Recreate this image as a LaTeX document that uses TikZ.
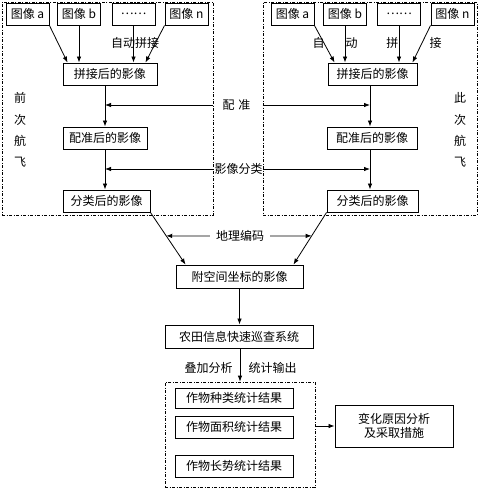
\documentclass[tikz,border=0pt]{standalone}
\usepackage{fontspec}
\setmainfont{Noto Sans CJK SC}
\usetikzlibrary{arrows.meta,positioning,calc}

\begin{document}
\begin{tikzpicture}[
  x=1pt, y=-1pt,
  font=\fontsize{12pt}{14.5pt}\selectfont,
  >={Latex[length=6pt,width=4.5pt]},
  img/.style={draw, line width=0.9pt, minimum width=43pt, minimum height=22pt, inner sep=1pt},
  stage/.style={draw, line width=0.9pt, minimum height=22pt, inner sep=1pt},
  frame/.style={draw, line width=0.7pt, dash pattern=on 3pt off 1.5pt on 1pt off 1.5pt, inner sep=0pt},
  flow/.style={->, line width=0.8pt},
  tag/.style={inner sep=1pt},
  side/.style={align=center, font=\fontsize{12pt}{21.3pt}\selectfont}
]
\useasboundingbox (0,0) rectangle (479,488);

% two flights
\node[frame, minimum width=211pt, minimum height=213pt] (frmL) at (107.5,108.5) {};
\node[frame, minimum width=214pt, minimum height=213pt] (frmR) at (370,108.5) {};
\coordinate (colL) at (105,0);
\coordinate (colR) at (370,0);

% previous flight
\node[img] (imgLa) at (27.5,14) {图像 a};
\node[img] (imgLb) at (79,14) {图像 b};
\node[img] (imgLd) at (133.5,14) {……};
\node[img] (imgLn) at (186.5,14) {图像 n};
\node[stage, minimum width=94pt] (mosL) at (110,74) {拼接后的影像};
\node[stage, minimum width=84pt] (regL) at (105,138) {配准后的影像};
\node[stage, minimum width=87pt] (clsL) at (106.5,201) {分类后的影像};
\node[tag] (lblMosL) at (135,43) {自动拼接};
\node[side] (sideL) at (20,130) {前\\次\\航\\飞};

\draw[flow] (imgLa.south east) -- ([xshift=5pt]mosL.north west);
\draw[flow] (imgLb.south) -- (imgLb.south |- mosL.north);
\draw[flow] (imgLd.south) -- (imgLd.south |- mosL.north);
\draw[flow] (imgLn.south west) -- ([xshift=-12pt]mosL.north east);
\draw[flow] (mosL.south -| colL) -- (regL.north -| colL);
\draw[flow] (regL.south -| colL) -- (clsL.north -| colL);

% this flight
\node[img] (imgRa) at (292.5,14) {图像 a};
\node[img] (imgRb) at (345,14) {图像 b};
\node[img] (imgRd) at (399,14) {……};
\node[img] (imgRn) at (452.5,14) {图像 n};
\node[stage, minimum width=89pt] (mosR) at (372.5,74) {拼接后的影像};
\node[stage, minimum width=90pt] (regR) at (372,138) {配准后的影像};
\node[stage, minimum width=91pt] (clsR) at (372.5,201) {分类后的影像};
\node[tag] (lblMosR) at (377,43) {自\hspace{21pt}动\hspace{29pt}拼\hspace{31pt}接};
\node[side] (sideR) at (460,130) {此\\次\\航\\飞};

\draw[flow] (imgRa.south east) -- ([xshift=7pt]mosR.north west);
\draw[flow] (imgRb.south) -- (imgRb.south |- mosR.north);
\draw[flow] (imgRd.south) -- (imgRd.south |- mosR.north);
\draw[flow] (imgRn.south west) -- ([xshift=-5pt]mosR.north east);
\draw[flow] (mosR.south -| colR) -- (regR.north -| colR);
\draw[flow] (regR.south -| colR) -- (clsR.north -| colR);

% registration and classification between flights
\node[tag] (lblReg) at (236.5,105) {配\hspace{4pt}准};
\draw[flow] (frmL.east |- lblReg) -- (colL |- lblReg);
\draw[flow] (frmR.west |- lblReg) -- (colR |- lblReg);
\node[tag] (lblCls) at (238.5,169) {影像分类};
\draw[flow] (frmL.east |- lblCls) -- (colL |- lblCls);
\draw[flow] (frmR.west |- lblCls) -- (colR |- lblCls);

% geocoding
\node[stage, minimum width=127pt, minimum height=23pt] (geo) at (239.5,276.5) {附空间坐标的影像};
\draw[flow] (clsL.south east) -- coordinate[pos=0.45] (gL) ([xshift=10pt]geo.north west);
\draw[flow] (clsR.south west) -- coordinate[pos=0.45] (gR) ([xshift=-10pt]geo.north east);
\node[tag] (lblGeo) at (240,236) {地理编码};
\draw[flow] ([xshift=-5pt]lblGeo.west) -- (gL);
\draw[flow] ([xshift=5pt]lblGeo.east) -- (gR);

% inspection system and results
\node[stage, minimum width=148pt, minimum height=23pt] (sys) at (239,336.5) {农田信息快速巡查系统};
\draw[flow] (geo.south) -- (geo.south |- sys.north);

\node[frame, minimum width=150pt, minimum height=105pt] (frmRes) at (240,434.5) {};
\draw[flow] (sys.south -| frmRes.north) -- (frmRes.north);
\node[tag] (lblOver) at (208.5,368) {叠加分析};
\node[tag] (lblStat) at (272.5,368) {统计输出};

\node[stage, minimum width=118pt, minimum height=20pt] (resKind) at (234,398) {作物种类统计结果};
\node[stage, minimum width=118pt] (resArea) at (234,427) {作物面积统计结果};
\node[stage, minimum width=118pt] (resGrow) at (234,466) {作物长势统计结果};

\node[stage, minimum width=118pt, minimum height=42pt, align=center] (cause) at (394,426) {变化原因分析\\及采取措施};
\draw[flow] (frmRes.east |- cause.west) -- (cause.west);

\end{tikzpicture}
\end{document}
